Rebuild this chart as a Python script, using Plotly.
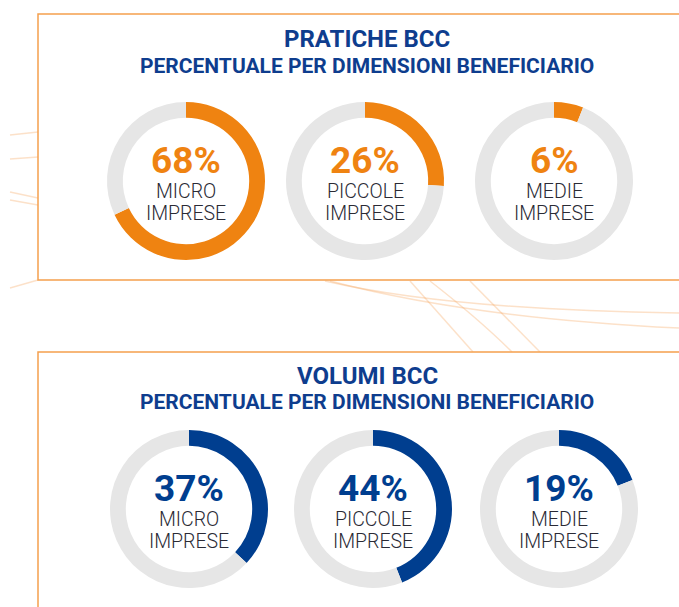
import plotly.graph_objects as go

# ---- data ----
categories = ["MICRO", "PICCOLE", "MEDIE"]
category_line2 = ["IMPRESE", "IMPRESE", "IMPRESE"]
pratiche_pct = [68, 26, 6]
volumi_pct = [37, 44, 19]
panel_titles = ["PRATICHE BCC", "VOLUMI BCC"]
panel_subtitle = "PERCENTUALE PER DIMENSIONI BENEFICIARIO"

# ---- style / layout constants ----
W, H = 679, 607
ORANGE = "#EF8311"
BLUE = "#003E8F"
GRAY = "#E6E6E6"
TITLE_BLUE = "#0E3D8E"
TEXT_DARK = "#2A2A35"
BORDER = "#F5A04E"
DECO = "rgba(247,170,100,0.35)"
R = 79
rows = [
    dict(vals=pratiche_pct, color=ORANGE, cx=[186, 365, 554], cy=181,
         ty=39, sy=66, box=(38, 14, 700, 280)),
    dict(vals=volumi_pct, color=BLUE, cx=[189, 373, 559], cy=509,
         ty=376, sy=402, box=(38, 352, 700, 660)),
]

fig = go.Figure()

shapes = []
# faint decorative background lines
deco_paths = [
    "M 10 135 L 38 132", "M 10 159 L 38 157", "M 10 192 L 38 198",
    "M 10 200 L 38 205", "M 10 288 L 38 280",
    "M 325 281 Q 450 310 679 313", "M 330 281 Q 470 318 679 328",
    "M 410 281 L 473 352", "M 430 281 Q 480 320 512 352",
    "M 470 281 L 540 352",
]
for p in deco_paths:
    shapes.append(dict(type="path", path=p, xref="x", yref="y",
                       line=dict(color=DECO, width=1.5), layer="below"))

annotations = []
for k, row in enumerate(rows):
    x0, y0, x1, y1 = row["box"]
    shapes.append(dict(type="rect", xref="x", yref="y", x0=x0, y0=y0, x1=x1, y1=y1,
                       line=dict(color=BORDER, width=1.5), fillcolor="white",
                       layer="below"))
    annotations.append(dict(x=367, y=row["ty"], xref="x", yref="y", text=panel_titles[k],
                            showarrow=False, xanchor="center", yanchor="middle",
                            font=dict(family="Roboto", size=24, color=TITLE_BLUE,
                                      weight="bold")))
    annotations.append(dict(x=367, y=row["sy"], xref="x", yref="y", text=panel_subtitle,
                            showarrow=False, xanchor="center", yanchor="middle",
                            font=dict(family="Roboto", size=21, color=TITLE_BLUE,
                                      weight="bold")))
    for i, v in enumerate(row["vals"]):
        cx, cy = row["cx"][i], row["cy"]
        fig.add_trace(go.Pie(
            values=[v, 100 - v],
            labels=[categories[i], "altro"],
            marker=dict(colors=[row["color"], GRAY], line=dict(width=0)),
            hole=0.8, sort=False, direction="clockwise", rotation=0,
            textinfo="none", hoverinfo="skip", showlegend=False,
            domain=dict(x=[(cx - R) / W, (cx + R) / W],
                        y=[1 - (cy + R) / H, 1 - (cy - R) / H]),
        ))
        annotations.append(dict(x=cx, y=cy - 21, xref="x", yref="y", text=f"{v}%",
                                showarrow=False, xanchor="center", yanchor="middle",
                                font=dict(family="Roboto", size=37, color=row["color"],
                                          weight="bold")))
        annotations.append(dict(x=cx, y=cy + 10.5, xref="x", yref="y", text=categories[i],
                                showarrow=False, xanchor="center", yanchor="middle",
                                font=dict(family="Roboto", size=19.5, color=TEXT_DARK,
                                          weight=300)))
        annotations.append(dict(x=cx, y=cy + 32, xref="x", yref="y", text=category_line2[i],
                                showarrow=False, xanchor="center", yanchor="middle",
                                font=dict(family="Roboto", size=19.5, color=TEXT_DARK,
                                          weight=300)))

fig.update_layout(
    width=W, height=H, margin=dict(l=0, r=0, t=0, b=0),
    paper_bgcolor="white", plot_bgcolor="white",
    xaxis=dict(range=[0, W], visible=False, fixedrange=True),
    yaxis=dict(range=[H, 0], visible=False, fixedrange=True),
    shapes=shapes, annotations=annotations, showlegend=False,
)

fig.write_html("out.html", config={"displayModeBar": False},
               post_script="document.body.style.margin='0px';")
